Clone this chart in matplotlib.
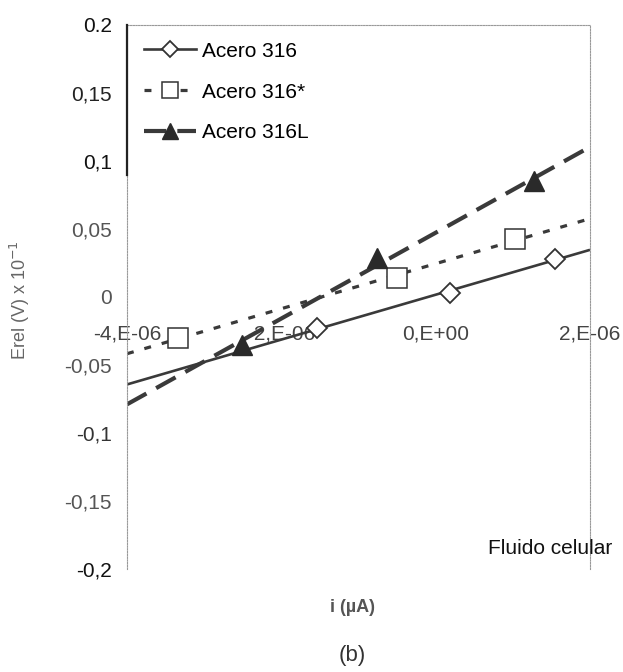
import matplotlib
matplotlib.use('Agg')
import numpy as np
import matplotlib.pyplot as plt
from matplotlib.lines import Line2D

plt.rcParams['font.family'] = ['Liberation Sans', 'DejaVu Sans']
plt.rcParams['lines.scale_dashes'] = False

# data (current in A, potential in V x 10^-1)
i_316 = [-1.54e-6, 0.18e-6, 1.54e-6]
e_316 = [-0.023, 0.003, 0.028]
i_316s = [-3.34e-6, -0.50e-6, 1.03e-6]
e_316s = [-0.030, 0.014, 0.043]
i_316L = [-2.51e-6, -0.76e-6, 1.28e-6]
e_316L = [-0.035, 0.029, 0.085]

names = ['Acero 316', 'Acero 316*', 'Acero 316L']
x_ticks = [-4e-6, -2e-6, 0, 2e-6]
x_labels = ['-4,E-06', '-2,E-06', '0,E+00', '2,E-06']
y_ticks = [-0.2, -0.15, -0.1, -0.05, 0, 0.05, 0.1, 0.15, 0.2]
y_labels = ['-0,2', '-0,15', '-0,1', '-0,05', '0', '0,05', '0,1', '0,15', '0.2']
y_label_colors = ['#111', '#555', '#333', '#555', '#555', '#555', '#111', '#222', '#111']

dark = '#3a3a3a'
styles = [
    dict(ls='-', lw=1.9, marker='D', ms=10, mfc='white', mec='#333', mew=1.3),
    dict(ls=(0, (5, 8)), lw=2.3, marker='s', ms=14, mfc='white', mec='#333', mew=1.1),
    dict(ls=(0, (16, 8)), lw=3.0, marker='^', ms=15, mfc='#2a2a2a', mec='#2a2a2a', mew=1),
]

fig = plt.figure(figsize=(6.23, 6.72), dpi=100)
ax = fig.add_axes([127 / 623, 1 - 569 / 672, 463 / 623, 544 / 672])

x_lim = (-4e-6, 2e-6)
xx = np.array(x_lim)
series = [(i_316, e_316), (i_316s, e_316s), (i_316L, e_316L)]
for (xs, ys), st in zip(series, styles):
    k, b = np.polyfit(xs, ys, 1)
    ax.plot(xx, k * xx + b, color=dark, ls=st['ls'], lw=st['lw'], zorder=2,
            solid_capstyle='butt', dash_capstyle='butt')
    ax.plot(xs, ys, ls='none', marker=st['marker'], ms=st['ms'], mfc=st['mfc'],
            mec=st['mec'], mew=st['mew'], zorder=3)

ax.set_xlim(*x_lim)
ax.set_ylim(-0.2, 0.2)

# x axis crosses at zero, its line is not drawn
ax.spines['bottom'].set_position(('data', 0))
ax.spines['bottom'].set_visible(False)
for side in ['top', 'right', 'left']:
    ax.spines[side].set_color('#999')
    ax.spines[side].set_linestyle((0, (1, 1)))
    ax.spines[side].set_linewidth(0.8)
# solid piece of the left edge next to the legend
ax.plot([0, 0], [0.725, 1], transform=ax.transAxes, color='#222', lw=1.6,
        clip_on=False, zorder=4)

ax.set_xticks(x_ticks)
ax.set_xticklabels(x_labels, fontsize=15, color='#444')
ax.tick_params(axis='x', length=0, pad=20)
ax.set_yticks(y_ticks)
ax.set_yticklabels(y_labels, fontsize=15)
for lab, c in zip(ax.get_yticklabels(), y_label_colors):
    lab.set_color(c)
ax.tick_params(axis='y', length=0, pad=11)

handles = [Line2D([], [], color=dark, ls=st['ls'], lw=st['lw'], marker=st['marker'],
                  ms=st['ms'] * 0.8, mfc=st['mfc'], mec=st['mec'], mew=st['mew'])
           for st in styles]
leg = ax.legend(handles, names, loc='upper left', bbox_to_anchor=(0.0, 1.0),
                frameon=False, fontsize=15, handlelength=2.5, handletextpad=0.3,
                labelspacing=1.05, borderaxespad=0.4)

fig.text(20 / 623, 1 - 300 / 672, 'Erel (V) x 10$^{-1}$', rotation=90, fontsize=13,
         color='#666', ha='center', va='center')
fig.text(612 / 623, 1 - 548 / 672, 'Fluido celular', fontsize=15, color='#111',
         ha='right', va='center')
fig.text(352 / 623, 1 - 608 / 672, 'i (µA)', fontsize=13, fontweight='bold',
         color='#555', ha='center', va='center')
fig.text(352 / 623, 1 - 655 / 672, '(b)', fontsize=16, color='#333',
         ha='center', va='center')

fig.savefig('out.png', dpi=100, facecolor='white')
